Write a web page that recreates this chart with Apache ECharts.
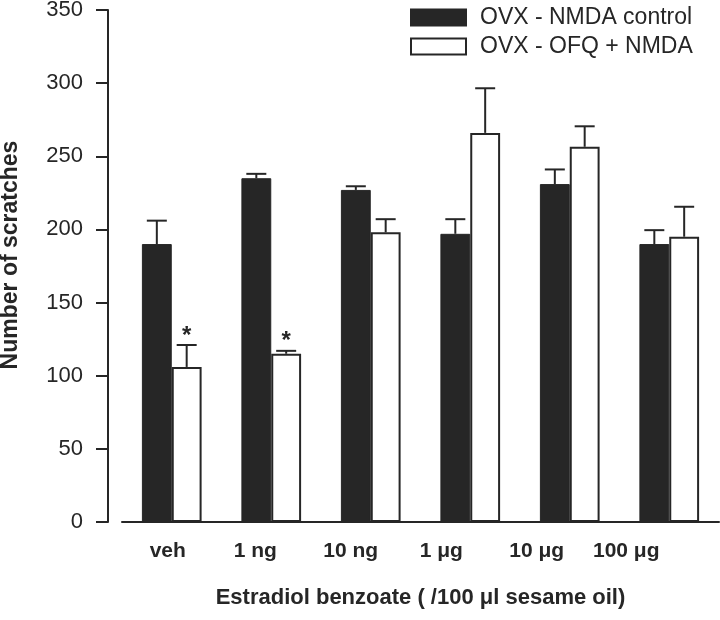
<!DOCTYPE html>
<html>
<head>
<meta charset="utf-8">
<script src="https://cdn.jsdelivr.net/npm/echarts@6/dist/echarts.min.js"></script>
<style>html,body{margin:0;padding:0;background:#fff}#c{width:720px;height:620px}</style>
</head>
<body>
<div id="c"></div>
<script>
const categories = ['veh', '1 ng', '10 ng', '1 μg', '10 μg', '100 μg'];
const controlName = 'OVX - NMDA control';
const ofqName = 'OVX - OFQ + NMDA';
const controlMean = [190, 235, 227, 197, 231, 190];
const controlSem = [16, 3, 2.5, 10, 10, 9.5];
const ofqMean = [106, 115, 198, 266, 256.5, 195];
const ofqSem = [15, 2, 9, 30.5, 14, 20.5];
const ofqSig = ['*', '*', '', '', '', ''];
const yTicks = [0, 50, 100, 150, 200, 250, 300, 350];

const INK = '#262626';
const FONT = '"Liberation Sans", Arial, sans-serif';
const labelShift = [8, 32, 40, 58, 66, 86];

function errRender(offsetFrac, sig) {
  return function (params, api) {
    const i = api.value(0), v = api.value(1), e = api.value(2);
    const band = api.size([1, 0])[0];
    const b = api.coord([i, v]);
    const t = api.coord([i, v + e]);
    const cx = b[0] + offsetFrac * band;
    const children = [
      {type: 'line', shape: {x1: cx, y1: b[1], x2: cx, y2: t[1]}, style: {stroke: INK, lineWidth: 2}},
      {type: 'line', shape: {x1: cx - 10, y1: t[1], x2: cx + 10, y2: t[1]}, style: {stroke: INK, lineWidth: 2}}
    ];
    const s = sig ? sig[params.dataIndex] : '';
    if (s) {
      children.push({type: 'text', style: {text: s, x: cx, y: t[1] + 3, align: 'center', verticalAlign: 'bottom',
        font: 'bold 24px ' + FONT, fill: INK}});
    }
    return {type: 'group', children: children};
  };
}

const rich = {};
labelShift.forEach((p, i) => {
  rich['l' + i] = {fontSize: 21, fontWeight: 'bold', color: INK, fontFamily: FONT, padding: [0, p, 0, 0]};
});

const chart = echarts.init(document.getElementById('c'), null, {renderer: 'canvas'});
chart.setOption({
  animation: false,
  backgroundColor: '#fff',
  textStyle: {fontFamily: FONT, color: INK},
  grid: {left: 122, right: 1, top: 10, bottom: 98, containLabel: false, outerBoundsMode: 'none'},
  legend: {
    orient: 'vertical', left: 410, top: 6, padding: 0, itemWidth: 55, itemHeight: 16, itemGap: 6,
    icon: 'rect',
    textStyle: {fontSize: 23, color: INK, padding: [0, 0, 0, 9]},
    data: [controlName, ofqName]
  },
  xAxis: {
    type: 'category', data: categories,
    axisLine: {lineStyle: {color: INK, width: 2}},
    axisTick: {alignWithLabel: true, length: 9, lineStyle: {color: INK, width: 1.5}},
    axisLabel: {
      margin: 19, interval: 0,
      formatter: function (v, i) { return '{l' + i + '|' + v + '}'; },
      rich: rich
    },
    name: 'Estradiol benzoate ( /100 μl sesame oil)', nameLocation: 'middle', nameGap: 65,
    nameTextStyle: {fontSize: 22, fontWeight: 'bold', color: INK}
  },
  yAxis: {
    type: 'value', min: 0, max: 350, interval: 50, offset: 14,
    axisLine: {show: true, lineStyle: {color: INK, width: 2}},
    axisTick: {show: true, length: 12, lineStyle: {color: INK, width: 2}},
    splitLine: {show: false},
    axisLabel: {fontSize: 22, color: INK, margin: 25,
      formatter: function (v) { return yTicks.indexOf(v) >= 0 ? String(v) : ''; }},
    name: 'Number of scratches', nameLocation: 'middle', nameRotate: 90, nameGap: 86,
    nameTextStyle: {fontSize: 23, fontWeight: 'bold', color: INK, padding: [0, 0, 0, 22]}
  },
  series: [
    {name: controlName, type: 'bar', data: controlMean, barGap: '0%', barCategoryGap: '40%',
      itemStyle: {color: INK, borderColor: INK, borderWidth: 1}},
    {name: ofqName, type: 'bar', data: ofqMean,
      itemStyle: {color: '#fff', borderColor: INK, borderWidth: 2}},
    {type: 'custom', renderItem: errRender(-0.15, null), z: 5,
      data: controlMean.map((m, i) => [i, m, controlSem[i]])},
    {type: 'custom', renderItem: errRender(0.15, ofqSig), z: 5,
      data: ofqMean.map((m, i) => [i, m, ofqSem[i]])}
  ]
});
</script>
</body>
</html>
